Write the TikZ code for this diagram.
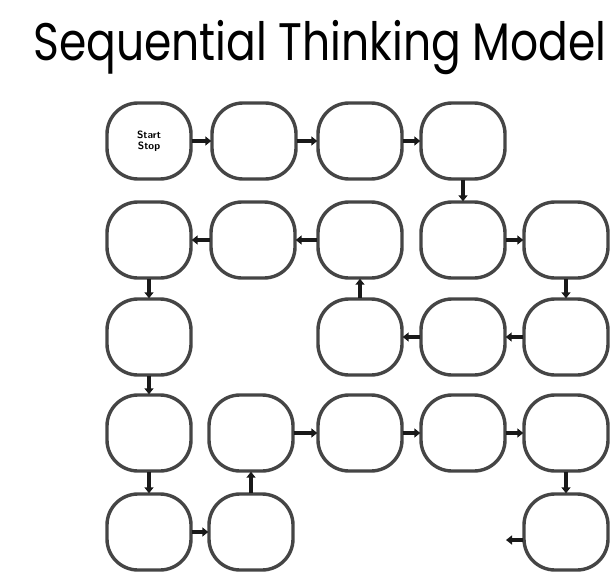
\documentclass[tikz,border=0pt]{standalone}
\usepackage{fontspec}
\newfontfamily\titlefont{Poppins}
\usetikzlibrary{arrows.meta}
\definecolor{boxline}{HTML}{454545}
\begin{document}
\begin{tikzpicture}[x=1pt,y=-1pt,
  stepbox/.style={draw=boxline,line width=3.4pt,rounded corners=31pt,minimum width=84pt,minimum height=76pt,inner sep=0pt,fill=white},
  link/.style={draw=black!90,line width=3.6pt,-{Triangle[length=6pt,width=9pt]},shorten <=-1pt,shorten >=-1pt}]
\useasboundingbox (0,0) rectangle (615,578);
\node[anchor=base west,inner sep=0pt] (title) at (33,60) {\scalebox{1}[1.2]{\titlefont\fontsize{44}{48}\selectfont Sequential Thinking Model}};
% row 1
\node[stepbox] (r1c1) at (149,141) {\sffamily\bfseries\fontsize{10.5}{12}\selectfont\shortstack{Start\\Stop}};
\node[stepbox] (r1c2) at (254,141) {};
\node[stepbox] (r1c3) at (360,141) {};
\node[stepbox] (r1c4) at (463,141) {};
% row 2
\node[stepbox] (r2c1) at (149,240) {};
\node[stepbox] (r2c2) at (253,240) {};
\node[stepbox] (r2c3) at (360,240) {};
\node[stepbox] (r2c4) at (463,240) {};
\node[stepbox] (r2c5) at (566,240) {};
% row 3
\node[stepbox] (r3c1) at (149,337) {};
\node[stepbox] (r3c3) at (360,337) {};
\node[stepbox] (r3c4) at (463,337) {};
\node[stepbox] (r3c5) at (566,337) {};
% row 4
\node[stepbox] (r4c1) at (149,433) {};
\node[stepbox] (r4c2) at (251,433) {};
\node[stepbox] (r4c3) at (360,433) {};
\node[stepbox] (r4c4) at (463,433) {};
\node[stepbox] (r4c5) at (566,433) {};
% row 5
\node[stepbox] (r5c1) at (149,532) {};
\node[stepbox] (r5c2) at (251,532) {};
\node[stepbox] (r5c5) at (566,532) {};
\coordinate (exit) at (507,540);
% connectors along the sequence
\draw[link] (r1c1) -- (r1c2);
\draw[link] (r1c2) -- (r1c3);
\draw[link] (r1c3) -- (r1c4);
\draw[link] (r1c4) -- (r2c4);
\draw[link] (r2c4) -- (r2c5);
\draw[link] (r2c5) -- (r3c5);
\draw[link] (r3c5) -- (r3c4);
\draw[link] (r3c4) -- (r3c3);
\draw[link] (r3c3) -- (r2c3);
\draw[link] (r2c3) -- (r2c2);
\draw[link] (r2c2) -- (r2c1);
\draw[link] (r2c1) -- (r3c1);
\draw[link] (r3c1) -- (r4c1);
\draw[link] (r4c1) -- (r5c1);
\draw[link] (r5c1) -- (r5c2);
\draw[link] (r5c2) -- (r4c2);
\draw[link] (r4c2) -- (r4c3);
\draw[link] (r4c3) -- (r4c4);
\draw[link] (r4c4) -- (r4c5);
\draw[link] (r4c5) -- (r5c5);
\draw[link] (r5c5.west |- exit) -- (exit);
\end{tikzpicture}
\end{document}
